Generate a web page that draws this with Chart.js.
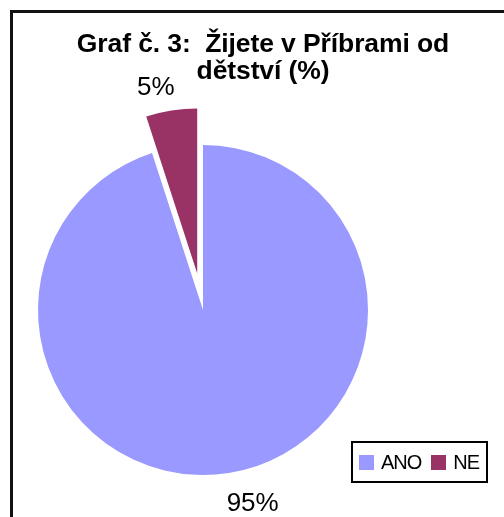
<!DOCTYPE html>
<html>
<head>
<meta charset="utf-8">
<script src="https://cdn.jsdelivr.net/npm/chart.js@4/dist/chart.umd.min.js"></script>
<style>
  html, body { margin: 0; padding: 0; background: #fff; overflow: hidden; }
  body { width: 504px; height: 517px; position: relative; }
  #frame {
    position: absolute; left: 10px; top: 10px;
    width: 500px; height: 510px;
    border: 3px solid #111;
  }
  #pie { position: absolute; left: 0; top: 0; }
  #title {
    position: absolute; left: 0; top: 17px; width: 500px;
    text-align: center; white-space: pre;
    font: bold 26.5px "Liberation Sans", Arial, sans-serif;
    line-height: 27px; letter-spacing: -0.1px; color: #000;
  }
  #legend {
    position: absolute; left: 338px; top: 428px;
    width: 127px; height: 38px;
    border: 2px solid #000;
    display: flex; align-items: center; padding-left: 6px; box-sizing: content-box;
    font: 20px "Liberation Sans", Arial, sans-serif; letter-spacing: -1px; color: #000;
  }
  #legend .sw { display: inline-block; width: 15px; height: 15px; margin-right: 7px; }
  #legend .it { display: flex; align-items: center; margin-right: 10px; }
</style>
</head>
<body>
<div id="frame">
  <canvas id="pie" width="500" height="510"></canvas>
  <div id="title"></div>
  <div id="legend"></div>
</div>
<script>
var chartTitle = ["Graf č. 3:  Žijete v Příbrami od", "dětství (%)"];
var answers = ["ANO", "NE"];
var percents = [95, 5];
var sliceColors = ["#9999FF", "#993366"];

// how far each slice is pulled out (px of shift)
var explode = [0, 37];
// label placement (distance beyond rim, sideways nudge)
var labelGap = [31, 60];
var labelShift = [19, -12];

document.getElementById("title").textContent = chartTitle.join("\n");

// Chart.js 4 moves an arc by offset/4 and also grows it; undo the growth
// so the pulled-out slice keeps the same radius and angle as the rest
var keepSize = {
  id: 'keepSize',
  afterDatasetUpdate: function(chart, args) {
    args.meta.data.forEach(function(arc) {
      var o = (arc.options.offset || 0) / 4;
      if (!o) return;
      var fix = 1 - Math.sin(Math.min(Math.PI, arc.circumference));
      var ro = o * fix;
      var R = arc.outerRadius;
      var d = ro / (2 * Math.PI * R);
      arc.outerRadius = R - ro;
      arc.startAngle -= d;
      arc.endAngle += d;
    });
  }
};

var pctLabels = {
  id: 'pctLabels',
  afterDatasetsDraw: function(chart) {
    var ctx = chart.ctx;
    var arcs = chart.getDatasetMeta(0).data;
    ctx.save();
    ctx.font = '26px "Liberation Sans", Arial, sans-serif';
    ctx.fillStyle = '#000';
    ctx.textAlign = 'center';
    ctx.textBaseline = 'middle';
    arcs.forEach(function(arc, i) {
      var mid = (arc.startAngle + arc.endAngle) / 2;
      var d = chart.getDatasetMeta(0).controller.outerRadius + labelGap[i];
      var x = arc.x + Math.cos(mid) * d + labelShift[i];
      var y = arc.y + Math.sin(mid) * d;
      ctx.fillText(percents[i] + '%', x, y);
    });
    ctx.restore();
  }
};

var ctx_pie = document.getElementById("pie");
var myChart = new Chart(ctx_pie, {
  type: 'pie',
  data: {
    labels: answers,
    datasets: [{
      data: percents,
      backgroundColor: sliceColors,
      borderWidth: 0,
      offset: explode.map(function(v) { return v * 4; }),
      radius: 165
    }]
  },
  options: {
    responsive: false,
    animation: false,
    layout: {
      padding: {left: 0, right: 120, top: 84, bottom: 0}
    },
    plugins: {
      legend: { display: false },
      title: { display: false },
      tooltip: { enabled: false }
    }
  },
  plugins: [keepSize, pctLabels]
});

// legend built from the chart's own legend items
var legendEl = document.getElementById("legend");
myChart.options.plugins.legend.labels.generateLabels(myChart).forEach(function(item) {
  var it = document.createElement("span");
  it.className = "it";
  var sw = document.createElement("span");
  sw.className = "sw";
  sw.style.background = item.fillStyle;
  var tx = document.createElement("span");
  tx.textContent = item.text;
  it.appendChild(sw);
  it.appendChild(tx);
  legendEl.appendChild(it);
});
</script>
</body>
</html>
